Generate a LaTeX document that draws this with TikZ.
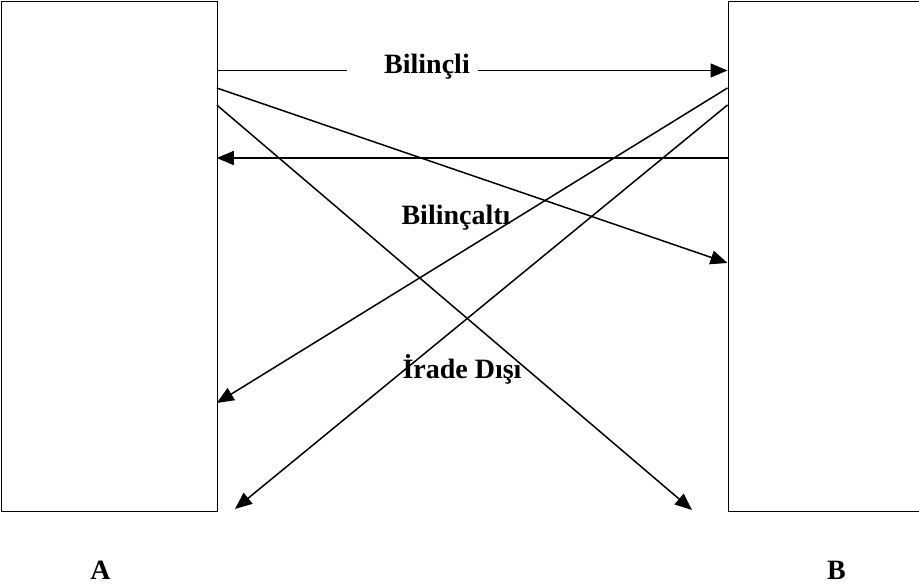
\documentclass[tikz,border=0pt]{standalone}
\usepackage{fontspec}
\setmainfont{Liberation Serif}
\usetikzlibrary{arrows.meta}
\begin{document}
\begin{tikzpicture}[x=1pt,y=-1pt,
  panel/.style={draw,line width=1.6pt,rectangle,inner sep=0pt,anchor=north west},
  conn/.style={line width=1.5pt},
  arr/.style={conn,-{Triangle[length=17pt,width=14pt]}},
  lbl/.style={font=\fontsize{28}{32}\selectfont\bfseries,anchor=base,inner sep=0pt}]
\useasboundingbox (0,0) rectangle (919,588);
\node[panel,minimum width=216pt,minimum height=510pt] (A) at (0.8,0.8) {};
\node[panel,minimum width=200pt,minimum height=510pt] (B) at (727.5,0.8) {};
% endpoints
\coordinate (a1) at (216.8,70.5);
\coordinate (a2) at (216.8,88);
\coordinate (a3) at (216.8,105);
\coordinate (a4) at (216.8,403);
\coordinate (a6) at (216.8,158);
\coordinate (b1) at (727.5,70.5);
\coordinate (b2) at (727.5,263);
\coordinate (b4) at (727.5,88);
\coordinate (b5) at (727.5,105);
\coordinate (b6) at (727.5,158);
\coordinate (e3) at (692,510);
\coordinate (e5) at (235,509);
\coordinate (g1) at (347,70.5);
\coordinate (g2) at (478,70.5);
% labels
\node[lbl] (l1) at (427,74) {Bilinçli};
\node[lbl] (l2) at (456,225) {Bilinçaltı};
\node[lbl] (l3) at (462,378) {İrade Dışı};
\node[lbl] (lA) at (100.5,579) {A};
\node[lbl] (lB) at (836.5,579) {B};
% connectors
\draw[conn] (a1) -- (g1);
\draw[arr] (g2) -- (b1);
\draw[arr] (a2) -- (b2);
\draw[arr] (a3) -- (e3);
\draw[arr] (b4) -- (a4);
\draw[arr] (b5) -- (e5);
\draw[arr] (b6) -- (a6);
\end{tikzpicture}
\end{document}
